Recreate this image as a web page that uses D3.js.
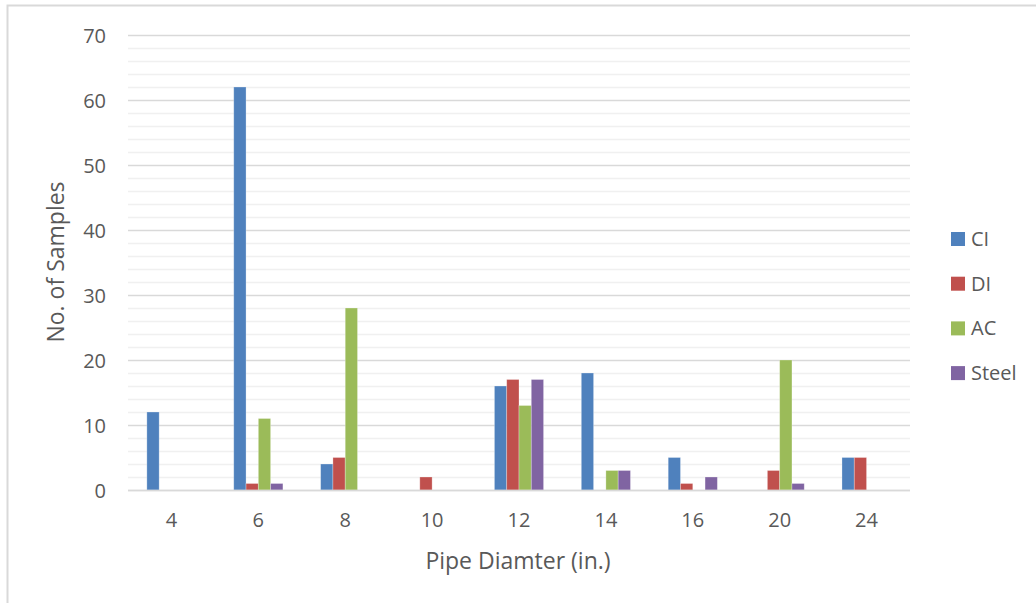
<!DOCTYPE html>
<html>
<head>
<meta charset="utf-8">
<script src="https://cdn.jsdelivr.net/npm/d3@7"></script>
<style>
  html, body { margin: 0; padding: 0; background: #fff; }
  svg { display: block; }
  text { font-family: "Open Sans", "Noto Sans", sans-serif; fill: #595959; }
</style>
</head>
<body>
<svg id="chart" width="1036" height="603"></svg>
<script>
// Pipe diameters (in.) and sample counts per pipe material
const categories = ["4", "6", "8", "10", "12", "14", "16", "20", "24"];
const seriesNames = ["CI", "DI", "AC", "Steel"];
const ciValues    = [12, 62, 4, 0, 16, 18, 5, 0, 5];
const diValues    = [0, 1, 5, 2, 17, 0, 1, 3, 5];
const acValues    = [0, 11, 28, 0, 13, 3, 0, 20, 0];
const steelValues = [0, 1, 0, 0, 17, 3, 2, 1, 0];
const seriesColors = ["#4F81BD", "#C0504D", "#9BBB59", "#8064A2"];
const yTicks = [0, 10, 20, 30, 40, 50, 60, 70];

const seriesValues = [ciValues, diValues, acValues, steelValues];

const svg = d3.select("#chart");

// outer chart frame
svg.append("path")
  .attr("d", "M7.5,603 V5.5 H1036")
  .attr("fill", "none")
  .attr("stroke", "#d9d9d9")
  .attr("stroke-width", 2);

const plot = { left: 128, right: 910, top: 35, bottom: 490 };

const x = d3.scaleBand()
  .domain(categories)
  .range([plot.left, plot.right])
  .paddingInner(0)
  .paddingOuter(0);

const y = d3.scaleLinear()
  .domain([0, 70])
  .range([plot.bottom, plot.top]);

// minor gridlines every 2
const minor = d3.range(0, 71, 2).filter(v => v % 10 !== 0);
svg.append("g").selectAll("line")
  .data(minor)
  .join("line")
  .attr("x1", plot.left).attr("x2", plot.right)
  .attr("y1", d => Math.round(y(d)) + 0.5)
  .attr("y2", d => Math.round(y(d)) + 0.5)
  .attr("stroke", "#f0f0f0")
  .attr("stroke-width", 1.5);

// major gridlines
svg.append("g").selectAll("line")
  .data(yTicks)
  .join("line")
  .attr("x1", plot.left).attr("x2", plot.right)
  .attr("y1", d => Math.round(y(d)) + 0.5)
  .attr("y2", d => Math.round(y(d)) + 0.5)
  .attr("stroke", "#d9d9d9")
  .attr("stroke-width", 1.5);

// bars: four series side by side with a wide gap between groups
const gapRatio = 3.07;
const barW = x.bandwidth() / (seriesNames.length + gapRatio);
const groupOffset = (x.bandwidth() - barW * seriesNames.length) / 2;

seriesValues.forEach((vals, si) => {
  svg.append("g").selectAll("rect")
    .data(vals.map((v, i) => ({ cat: categories[i], v })).filter(d => d.v > 0))
    .join("rect")
    .attr("x", d => x(d.cat) + groupOffset + si * barW)
    .attr("y", d => y(d.v))
    .attr("width", barW)
    .attr("height", d => y(0) - y(d.v))
    .attr("fill", seriesColors[si])
    .attr("stroke", "rgba(255,255,255,0.35)")
    .attr("stroke-width", 0.8);
});

// baseline
svg.append("line")
  .attr("x1", plot.left).attr("x2", plot.right)
  .attr("y1", Math.round(y(0)) + 0.5).attr("y2", Math.round(y(0)) + 0.5)
  .attr("stroke", "#d9d9d9")
  .attr("stroke-width", 1.5);

// y axis labels
const yAxis = d3.axisLeft(y).tickValues(yTicks).tickSize(0).tickPadding(0);
const yg = svg.append("g")
  .attr("transform", `translate(${plot.left - 22},0)`)
  .call(yAxis);
yg.select(".domain").remove();
yg.selectAll("text")
  .attr("font-size", 20)
  .attr("fill", "#595959")
  .attr("dy", "0.35em")
  .style("font-family", "'Open Sans', sans-serif");

// x axis labels
const xAxis = d3.axisBottom(x).tickSize(0).tickPadding(0);
const xg = svg.append("g")
  .attr("transform", `translate(0,${plot.bottom + 23})`)
  .call(xAxis);
xg.select(".domain").remove();
xg.selectAll("text")
  .attr("font-size", 20)
  .attr("fill", "#595959")
  .attr("dy", "0.71em")
  .style("font-family", "'Open Sans', sans-serif");

// axis titles
svg.append("text")
  .attr("x", 518)
  .attr("y", 569)
  .attr("text-anchor", "middle")
  .attr("font-size", 23)
  .text("Pipe Diamter (in.)");

svg.append("text")
  .attr("transform", `translate(64,262) rotate(-90)`)
  .attr("text-anchor", "middle")
  .attr("font-size", 23)
  .text("No. of Samples");

// legend
const legend = svg.append("g").attr("transform", "translate(951,232)");
seriesNames.forEach((name, i) => {
  const row = legend.append("g").attr("transform", `translate(0,${i * 44.7})`);
  row.append("rect").attr("width", 14).attr("height", 14).attr("fill", seriesColors[i]);
  row.append("text")
    .attr("x", 20).attr("y", 7).attr("dy", "0.35em")
    .attr("font-size", 20)
    .text(name);
});
</script>
</body>
</html>
